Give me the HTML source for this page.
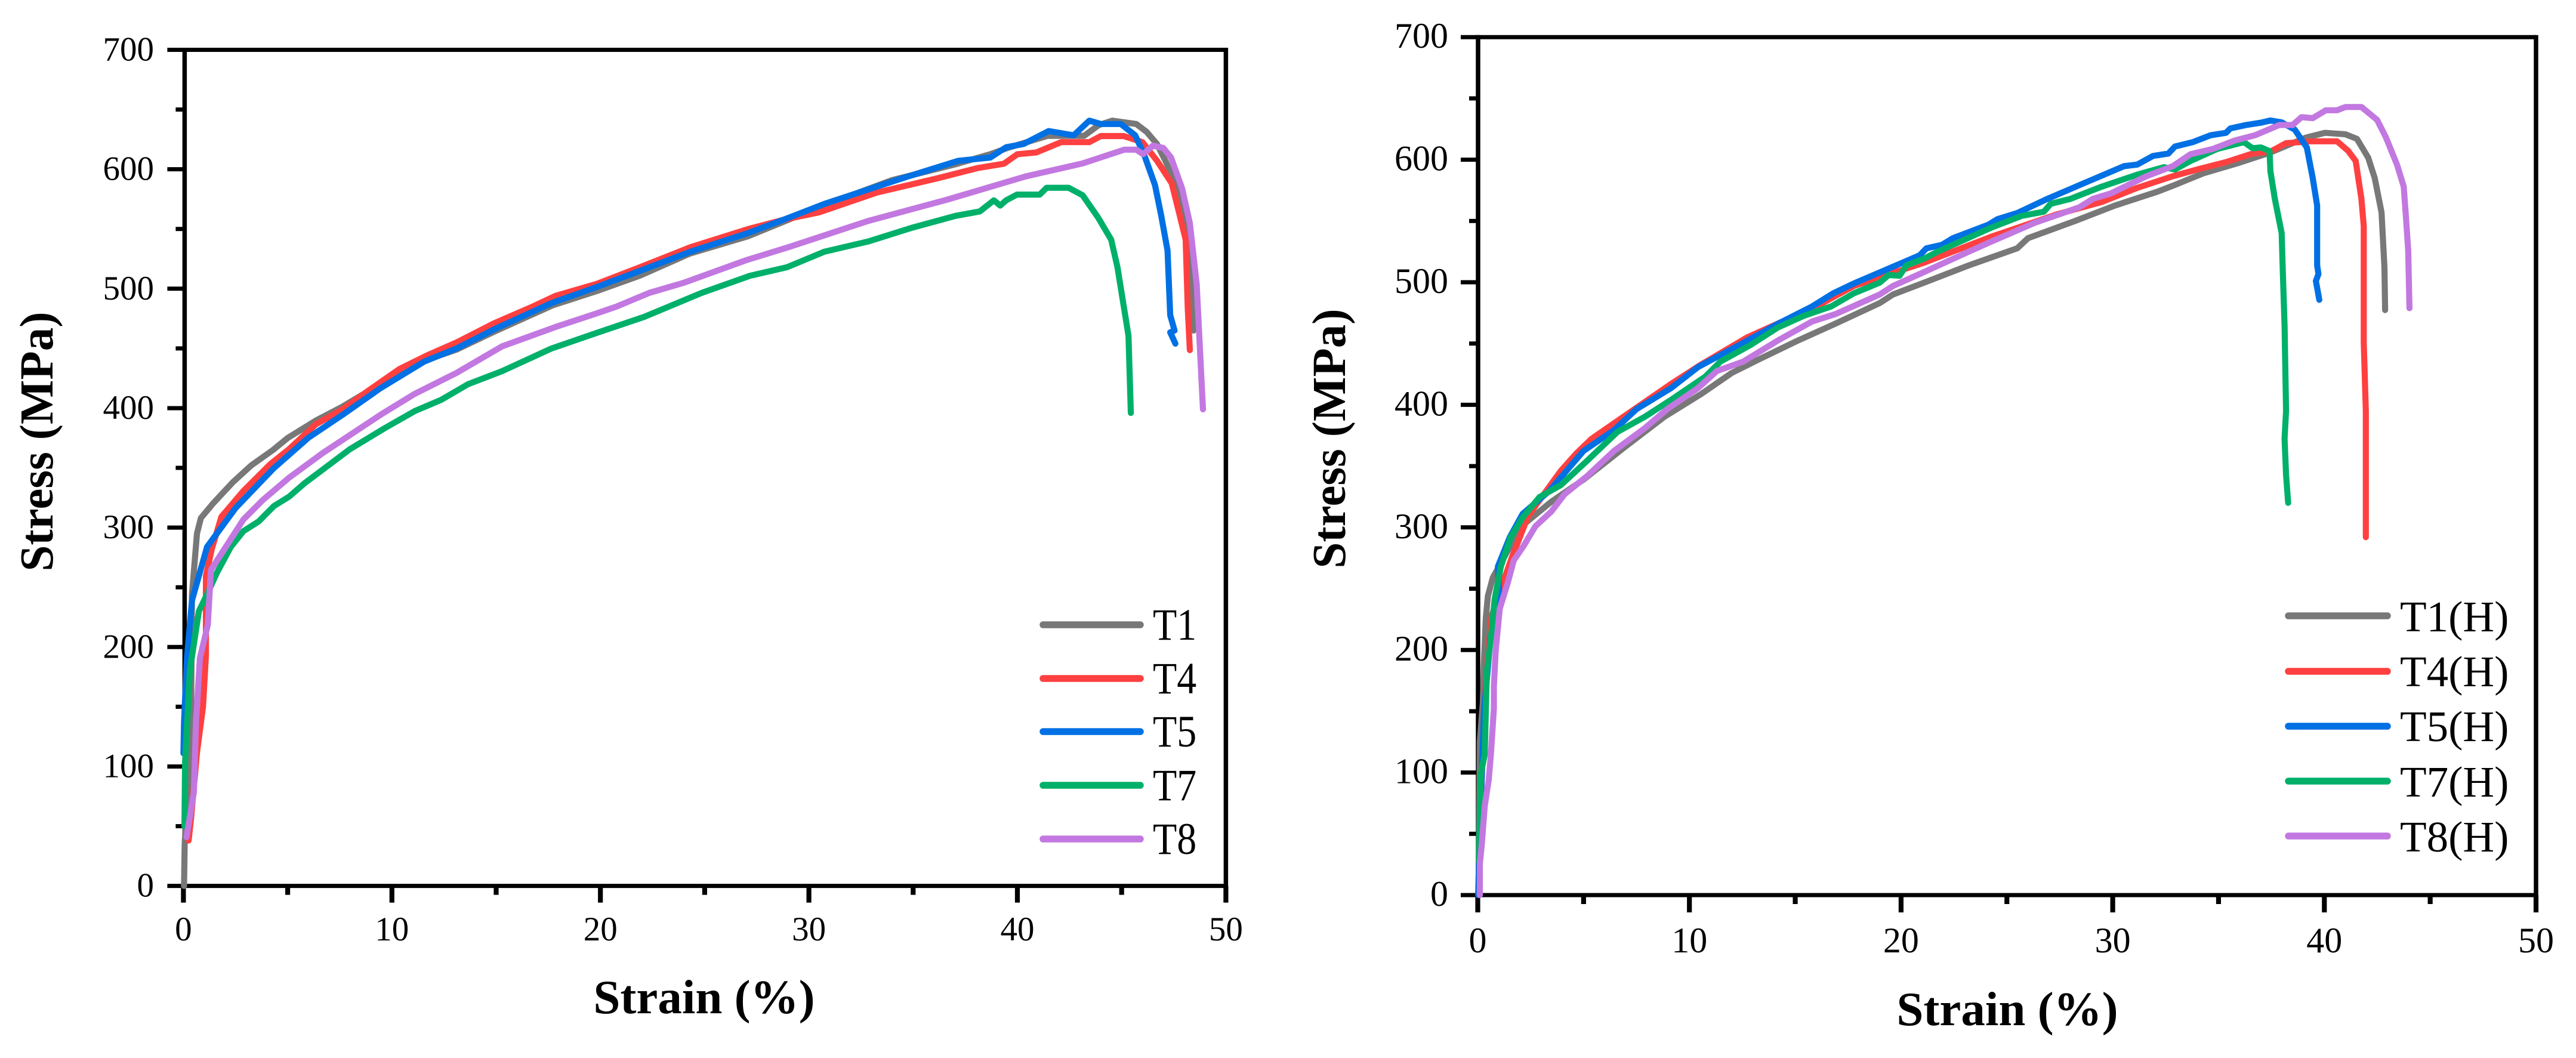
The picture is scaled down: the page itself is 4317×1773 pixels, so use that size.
<!DOCTYPE html>
<html lang="en">
<head>
<meta charset="utf-8">
<title>Stress-strain curves</title>
<style>
html,body{margin:0;padding:0;background:#fff;}
svg{display:block;}
text{font-family:"Liberation Serif",serif;fill:#000;}
.title{font-weight:bold;font-size:79px;}
.xtitle{font-weight:bold;font-size:81px;}
</style>
</head>
<body>
<svg id="figure" xmlns="http://www.w3.org/2000/svg" width="4317" height="1773" viewBox="0 0 4317 1773">
  <rect x="0" y="0" width="4317" height="1773" fill="#ffffff"/>
  <g id="left-chart"></g>
  <g id="right-chart"></g>

  <text class="title" text-anchor="middle" transform="translate(88,740) rotate(-90)">Stress (MPa)</text>
  <text class="xtitle" text-anchor="middle" x="1180" y="1698">Strain (%)</text>
  <text class="title" text-anchor="middle" transform="translate(2254,735) rotate(-90)">Stress (MPa)</text>
  <text class="xtitle" text-anchor="middle" x="3364" y="1718">Strain (%)</text>

  <g>
    <g><line x1="1748" x2="1911" y1="1047" y2="1047" stroke="#787878" stroke-width="11.5" stroke-linecap="round"/><text transform="translate(1932,1072) scale(.88,1)" font-size="75">T1</text></g>
    <g><line x1="1748" x2="1911" y1="1137" y2="1137" stroke="#ff4040" stroke-width="11.5" stroke-linecap="round"/><text transform="translate(1932,1162) scale(.88,1)" font-size="75">T4</text></g>
    <g><line x1="1748" x2="1911" y1="1226" y2="1226" stroke="#0070e4" stroke-width="11.5" stroke-linecap="round"/><text transform="translate(1932,1251) scale(.88,1)" font-size="75">T5</text></g>
    <g><line x1="1748" x2="1911" y1="1316" y2="1316" stroke="#00b06a" stroke-width="11.5" stroke-linecap="round"/><text transform="translate(1932,1341) scale(.88,1)" font-size="75">T7</text></g>
    <g><line x1="1748" x2="1911" y1="1406" y2="1406" stroke="#c278e0" stroke-width="11.5" stroke-linecap="round"/><text transform="translate(1932,1431) scale(.88,1)" font-size="75">T8</text></g>
  </g>
  <g>
    <g><line x1="3835" x2="4001" y1="1032" y2="1032" stroke="#787878" stroke-width="11.5" stroke-linecap="round"/><text x="4022" y="1058" font-size="73">T1(H)</text></g>
    <g><line x1="3835" x2="4001" y1="1125" y2="1125" stroke="#ff4040" stroke-width="11.5" stroke-linecap="round"/><text x="4022" y="1150" font-size="73">T4(H)</text></g>
    <g><line x1="3835" x2="4001" y1="1217" y2="1217" stroke="#0070e4" stroke-width="11.5" stroke-linecap="round"/><text x="4022" y="1242" font-size="73">T5(H)</text></g>
    <g><line x1="3835" x2="4001" y1="1309" y2="1309" stroke="#00b06a" stroke-width="11.5" stroke-linecap="round"/><text x="4022" y="1335" font-size="73">T7(H)</text></g>
    <g><line x1="3835" x2="4001" y1="1401" y2="1401" stroke="#c278e0" stroke-width="11.5" stroke-linecap="round"/><text x="4022" y="1427" font-size="73">T8(H)</text></g>
  </g>
</svg>
<script>
// Axis tick values and labels (both charts)
const xMajorTicks = [0, 10, 20, 30, 40, 50];
const xMinorTicks = [5, 15, 25, 35, 45];
const yMajorTicks = [0, 100, 200, 300, 400, 500, 600, 700];
const yMinorTicks = [50, 150, 250, 350, 450, 550, 650];
const seriesNames = ['T1', 'T4', 'T5', 'T7', 'T8'];
const seriesColors = ['#787878', '#ff4040', '#0070e4', '#00b06a', '#c278e0'];

// Left chart values (strain %, stress MPa)
const leftStrainT1 = [0.03,0.06,0.36,0.41,0.65,0.84,1.41,2.37,3.25,4.3,5.0,6.35,7.6,10.2,11.6,13.1,14.9,17.7,19.82,21.9,24.3,27.1,29.06,30.7,34,37,38.7,39.56,41.45,43.2,43.9,44.55,45.7,46.2,46.7,47.1,47.75,48.07,48.3,48.42,48.45];
const leftStressT1 = [0,35,124,244,295,308,320,338,352,365,375,389.6,401,428,440,449,464,486,498,511,529.5,544,558,569.6,591,604,612.6,618,628,628,637,640.7,637.9,631.3,621,607,581,555,515,472,465];
const leftStrainT4 = [0.25,0.36,0.65,0.94,1.08,1.08,1.36,1.82,2.88,4.16,5.07,6.35,7.63,8.9,10.36,11.64,13.1,14.9,16.75,17.85,19.82,21.9,24.3,27.1,28.85,30.5,33.26,36.2,38.1,39.35,40,40.9,42.1,43.45,44,45.1,46,46.7,47.4,47.75,48.07,48.17,48.27];
const leftStressT4 = [38,55.6,111.6,150,193,259.5,282,309,330.7,353,365.7,386.5,399,415,432.7,443.8,455,471,485,494,504,518,534.6,550,558,564,580.5,592.6,601,604.6,612.6,614,622.7,622.7,627.8,627.8,622.7,607,588.3,563.9,541,483.6,448.6];
const leftStrainT5 = [0,0.03,0.17,0.41,1.13,2.5,4.34,6,7.63,9.45,11.55,13.1,14.9,17.66,19.82,21.9,24.3,27.1,29.06,30.74,34.5,37.15,38.7,39.46,40.3,41.5,42.7,43.45,44,44.96,45.65,46.07,46.6,46.9,47.2,47.33,47.54,47.33,47.58];
const leftStressT5 = [111,137,190.7,239,283.7,316.4,349.8,375.3,394.4,416.7,439,450,466,488,501.4,515,530.9,546.7,559.6,571,592.6,607,609.8,618.4,621.2,632,628.4,640.7,637.9,637.9,628.4,612.6,586.8,561,532,477.8,465,463.5,454];
const leftStrainT7 = [0.05,0.08,0.31,0.74,1.13,1.6,2.27,2.88,3.6,4.34,5.07,5.8,7.99,9.63,11.1,12.37,13.65,15.29,17.66,19.82,22.1,24.86,27.17,28.95,30.74,32.84,34.94,37.04,38.2,38.87,39.18,39.46,39.98,41.07,41.4,42.46,43.13,43.87,44.5,44.8,45.33,45.44];
const leftStressT7 = [50,104,180.5,230,244,262,283.7,297,305,318,325.9,337,365.7,383,397.6,407,420,431,450,463,476.4,496.5,510.8,518,531,539.5,551,561,564.7,574,569.6,574,578.8,578.8,584.5,584.5,578.2,559.6,541,518,460.6,396];
const leftStrainT8 = [0.15,0.5,0.6,0.79,1.17,1.32,1.98,2.88,3.8,5.07,6.7,9.45,11.1,13.1,15.29,17.85,19.82,20.77,22.34,24,26.96,29.06,32.84,36.62,40.4,43.13,45.13,45.7,46.03,46.5,47,47.37,47.9,48.27,48.6,48.9];
const leftStressT8 = [40.8,78.5,137,190.7,218.7,264.6,282.4,306.8,323,341.8,362.6,394.4,412,429.5,451.8,468,479.3,485,496.5,505,523.7,535,556.7,574.5,594,604.9,616.4,616.4,612.6,619.8,617.8,609.8,584,555,503.6,399];

// Right chart values (strain %, stress MPa)
const rightStrainT1 = [0.05,0.1,0.24,0.29,0.38,0.48,0.71,1.13,1.6,2.26,3.48,5,6.98,8.8,10.57,12,13.27,15.07,16.87,18.99,19.62,21.09,23.19,25.49,26,28.22,30.11,32.1,32.94,34.3,35.98,37.45,39.13,40.03,41,41.54,42.07,42.38,42.7,42.84,42.87];
const rightStressT1 = [20,125,157,189,226,244,259,272,286.6,303.7,321,339,366,390,409,426,437,452,466,483,490,499.7,513.7,527.7,536,550,562.6,573.8,579.4,589,597.5,605.9,618,621.9,620.7,617,601.7,585,557,512,477.3];
const rightStrainT4 = [0.05,0.2,0.4,0.66,1.13,1.6,2.35,2.66,3.92,4.64,5.36,6.7,7.7,9.13,10.57,12.73,14.53,15.8,16.7,17.77,18.99,21.09,24.24,27.38,29.48,31.16,32.84,34.1,35.35,36.61,37.45,38.19,39.34,40.6,41.12,41.48,41.75,41.86,41.86,41.96,41.96];
const rightStressT4 = [30,100,180,228,252,275,308,316,346,360,372,388,400,417,433,455,469,478,487,497,504,516,537,555.5,565.5,577,586.5,592.5,598,605,606.5,613.5,615,615,607.3,599,568,545.8,450.8,394.9,292];
const rightStrainT5 = [0.02,0.1,0.3,0.6,1.03,0.95,1.51,2.12,3.38,5,6.44,7.5,9.13,10.4,12.37,14.17,15.8,16.8,17.77,18.99,20.88,21.2,21.93,22.45,24.13,24.55,25.5,26.86,28.64,30.53,31.16,31.9,32.63,32.94,33.78,34.62,35.35,35.56,36.3,37,37.45,37.98,38.6,39.17,39.45,39.66,39.66,39.72,39.6,39.76];
const rightStressT5 = [0,55,150,210,241.7,268,291.9,311,329.8,362.4,379.4,396.5,413.6,430.7,449,466,480.3,491,499,508,522,527.7,530.5,536,547,551.4,556.5,567.6,580.8,594.7,596,603,605,610.7,614.3,619.9,621.9,625.5,628.3,630.2,632,630.5,624.6,610,585,562.6,513.7,506.7,501,485.7];
const rightStrainT7 = [0.05,0.15,0.33,0.43,0.62,0.8,1.09,1.56,2.12,2.92,3.92,5.18,6.6,7.9,9.13,10.75,11.47,12.9,14.17,15.4,16.7,17.77,18.99,19.41,19.93,20.25,21.09,21.72,24.24,25.7,26.75,27.07,28,29.48,31.16,32.42,32.94,33.68,34.93,36.2,36.61,37,37.41,37.45,37.66,37.98,38.04,38.12,38.19,38.12,38.19,38.29];
const rightStressT7 = [28,99,115,183.7,210,241.7,268,291.9,308,324.8,334.4,354.6,377.9,390.3,404,423,435.3,449,463,472.6,480.3,491,499.7,505.9,505.3,513.7,519.3,524.9,544.4,554.2,557.6,564,568,578,587.8,593.9,592,599,608.7,614.3,609.3,610,607,590.5,568,540.2,506.7,464.8,394.9,372.5,343,320];
const rightStrainT8 = [0.1,0.1,0.19,0.33,0.52,0.62,0.76,0.76,0.85,1.04,1.42,1.7,2.17,2.73,3.48,4.1,5.18,6.44,7.9,8.95,10.4,11.3,12.55,14.17,15.8,16.9,18.99,19.62,20.88,23.19,24.24,26.33,28.43,29.06,29.9,31.58,32.84,33.68,34.72,35.77,36.72,37.87,38.5,38.92,39.45,40.07,40.6,41,41.75,42.49,42.9,43.43,43.75,43.85,43.96,44.02];
const rightStressT8 = [0,25.3,41,72.8,94,115,152,170,199.5,233.8,255,273,285,301,313,327,342,362.4,381,396.5,413.6,427.6,435.3,452.4,468,474,490,497,506.7,524.9,533,548.6,561.2,568,572.4,586.4,594.7,604.5,608.7,615.7,619.9,628.3,628.3,634.7,633.9,640.3,640.3,643,643,632.5,618.5,596,578,554,526,478.8];

const SVG_NS = 'http://www.w3.org/2000/svg';

function makeLine(parent, x1, y1, x2, y2, width) {
  const el = document.createElementNS(SVG_NS, 'line');
  el.setAttribute('x1', x1);
  el.setAttribute('y1', y1);
  el.setAttribute('x2', x2);
  el.setAttribute('y2', y2);
  el.setAttribute('stroke', '#000');
  el.setAttribute('stroke-width', width);
  parent.appendChild(el);
  return el;
}

function makeLabel(parent, x, y, anchor, size, content) {
  const el = document.createElementNS(SVG_NS, 'text');
  el.setAttribute('x', x);
  el.setAttribute('y', y);
  el.setAttribute('text-anchor', anchor);
  el.setAttribute('font-size', size);
  el.textContent = content;
  parent.appendChild(el);
  return el;
}

function drawChart(cfg) {
  const root = document.getElementById(cfg.id);
  const xScale = v => cfg.x0 + v * cfg.xPerUnit;
  const yScale = v => cfg.y0 - v * cfg.yPerUnit;
  const xEnd = xScale(50);
  const yTop = yScale(700);
  const spineX = cfg.x0 + cfg.spineOffset;

  // frame
  const spineLeft = makeLine(root, spineX, yTop - 3.5, spineX, cfg.y0 + 3.5, 7.5);
  
  
  const spineRight = makeLine(root, xEnd, yTop - 3.5, xEnd, cfg.y0 + 3.5, 7.5);
  
  
  const spineTop = makeLine(root, spineX, yTop, xEnd, yTop, 7);
  
  
  const spineBottom = makeLine(root, spineX, cfg.y0, xEnd, cfg.y0, 7);
  
  

  // y ticks
  yMajorTicks.forEach(v => {
    const tick = makeLine(root, spineX - cfg.yMajorLen, yScale(v), spineX, yScale(v), 7);
    
    
    const label = makeLabel(root, cfg.yLabelX, yScale(v) + 18, 'end', cfg.fontSize, String(v));
    
    
  });
  yMinorTicks.forEach(v => {
    const tick = makeLine(root, spineX - cfg.yMinorLen, yScale(v), spineX, yScale(v), 7);
    
    
  });

  // x ticks
  xMajorTicks.forEach(v => {
    const tick = makeLine(root, xScale(v), cfg.y0, xScale(v), cfg.y0 + cfg.xMajorLen, 8.2);
    
    
    const label = makeLabel(root, xScale(v), cfg.xLabelY, 'middle', cfg.fontSize, String(v));
    
    
  });
  xMinorTicks.forEach(v => {
    const tick = makeLine(root, xScale(v), cfg.y0, xScale(v), cfg.y0 + cfg.xMinorLen, 8.2);
    
    
  });

  // series
  cfg.series.forEach((s, i) => {
    const points = s.strain.map((v, k) => xScale(v).toFixed(1) + ',' + yScale(s.stress[k]).toFixed(1));
    const el = document.createElementNS(SVG_NS, 'polyline');
    el.setAttribute('points', points.join(' '));
    el.setAttribute('fill', 'none');
    el.setAttribute('stroke', seriesColors[i]);
    el.setAttribute('stroke-width', '10.2');
    el.setAttribute('stroke-linejoin', 'round');
    el.setAttribute('stroke-linecap', 'round');
    
    
    root.appendChild(el);
  });
}

drawChart({
  id: 'left-chart', x0: 307.4, xPerUnit: 34.94, y0: 1484.6, yPerUnit: 2.0016, spineOffset: 2,
  yLabelX: 258, xLabelY: 1576, fontSize: 57, yMajorLen: 29, yMinorLen: 15, xMajorLen: 28, xMinorLen: 15,
  series: [
    {strain: leftStrainT1, stress: leftStressT1},
    {strain: leftStrainT4, stress: leftStressT4},
    {strain: leftStrainT5, stress: leftStressT5},
    {strain: leftStrainT7, stress: leftStressT7},
    {strain: leftStrainT8, stress: leftStressT8}
  ]
});

drawChart({
  id: 'right-chart', x0: 2476.5, xPerUnit: 35.47, y0: 1500, yPerUnit: 2.054, spineOffset: 0.5,
  yLabelX: 2427, xLabelY: 1596, fontSize: 60, yMajorLen: 29, yMinorLen: 15, xMajorLen: 29, xMinorLen: 15,
  series: [
    {strain: rightStrainT1, stress: rightStressT1},
    {strain: rightStrainT4, stress: rightStressT4},
    {strain: rightStrainT5, stress: rightStressT5},
    {strain: rightStrainT7, stress: rightStressT7},
    {strain: rightStrainT8, stress: rightStressT8}
  ]
});
</script>
</body>
</html>
